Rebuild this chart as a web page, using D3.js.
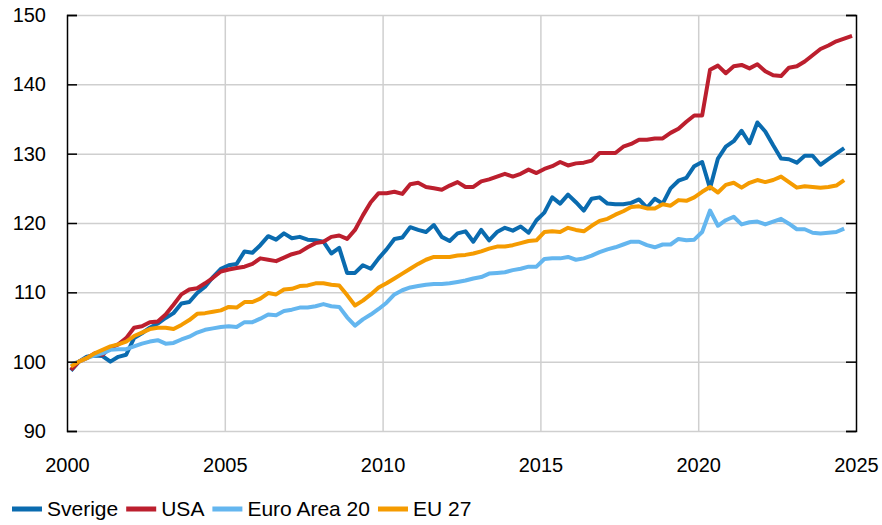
<!DOCTYPE html>
<html>
<head>
<meta charset="utf-8">
<script src="https://d3js.org/d3.v7.min.js"></script>
<style>
  body { margin: 0; background: #fff; }
  svg text { font-family: "Liberation Sans", Arial, sans-serif; fill: #000; }
</style>
</head>
<body>
<script>
//quarterly index, 2000 Q1 onwards
var startYear = 2000;

var sverige = [
  98.7, 100.0, 100.7, 100.9, 100.8, 100.0, 100.7, 101.0, 103.4, 104.1, 104.9, 105.5, 106.3, 107.0, 108.4, 108.6, 109.9, 110.8, 112.2, 113.4,
  113.9, 114.1, 115.9, 115.7, 116.8, 118.1, 117.6, 118.5, 117.8, 118.0, 117.6, 117.5, 117.3, 115.6, 116.4, 112.8, 112.8, 113.9, 113.4, 114.9,
  116.2, 117.7, 117.9, 119.4, 119.0, 118.7, 119.7, 118.0, 117.4, 118.5, 118.8, 117.3, 119.0, 117.5, 118.7, 119.3, 118.9, 119.5, 118.6, 120.4,
  121.5, 123.7, 122.8, 124.1, 123.0, 121.8, 123.5, 123.7, 122.8, 122.7, 122.7, 122.9, 123.4, 122.2, 123.5, 122.8, 125.0, 126.1, 126.5, 128.2,
  128.8, 125.0, 129.3, 131.0, 131.8, 133.3, 131.5, 134.5, 133.2, 131.2, 129.3, 129.2, 128.7, 129.7, 129.7, 128.4, 129.2, 130.0, 130.8
];

var usa = [
  98.8, 100.0, 100.5, 101.2, 101.0, 102.0, 102.5, 103.4, 104.9, 105.1, 105.7, 105.8, 106.8, 108.2, 109.7, 110.4, 110.6, 111.3, 112.1, 113.0,
  113.3, 113.5, 113.7, 114.1, 114.9, 114.7, 114.5, 115.0, 115.5, 115.8, 116.5, 117.1, 117.3, 118.0, 118.2, 117.7, 119.0, 121.1, 123.0, 124.3,
  124.3, 124.5, 124.2, 125.6, 125.8, 125.2, 125.0, 124.8, 125.4, 125.9, 125.2, 125.2, 126.0, 126.3, 126.7, 127.1, 126.7, 127.1, 127.7, 127.2,
  127.8, 128.2, 128.8, 128.3, 128.6, 128.7, 129.0, 130.1, 130.1, 130.1, 131.0, 131.4, 132.0, 132.0, 132.2, 132.2, 133.0, 133.6, 134.6, 135.5,
  135.5, 142.1, 142.7, 141.6, 142.6, 142.8, 142.3, 142.9, 141.9, 141.3, 141.2, 142.4, 142.6, 143.3, 144.2, 145.1, 145.6, 146.2, 146.6, 147.0
];

var euroArea = [
  99.6, 100.0, 100.5, 100.9, 101.2, 101.7, 101.8, 101.8, 102.2, 102.6, 102.9, 103.1, 102.6, 102.7, 103.2, 103.6, 104.2, 104.6, 104.8, 105.0,
  105.1, 105.0, 105.7, 105.7, 106.2, 106.8, 106.7, 107.3, 107.5, 107.8, 107.8, 108.0, 108.3, 108.0, 107.9, 106.4, 105.2, 106.1, 106.8, 107.6,
  108.5, 109.7, 110.3, 110.7, 110.9, 111.1, 111.2, 111.2, 111.3, 111.5, 111.7, 112.0, 112.2, 112.7, 112.8, 112.9, 113.2, 113.4, 113.7, 113.7,
  114.8, 114.9, 114.9, 115.1, 114.7, 114.9, 115.3, 115.8, 116.2, 116.5, 116.9, 117.3, 117.3, 116.8, 116.5, 116.9, 116.9, 117.7, 117.5, 117.6,
  118.7, 121.8, 119.6, 120.4, 120.9, 119.8, 120.1, 120.2, 119.8, 120.2, 120.6, 119.9, 119.1, 119.1, 118.6, 118.5, 118.6, 118.7, 119.2
];

var eu27 = [
  99.3, 100.0, 100.5, 101.2, 101.7, 102.2, 102.5, 102.9, 103.7, 104.2, 104.7, 104.9, 104.9, 104.7, 105.3, 106.0, 106.9, 107.0, 107.2, 107.4,
  107.9, 107.8, 108.6, 108.6, 109.1, 109.9, 109.7, 110.4, 110.5, 110.9, 111.0, 111.3, 111.3, 111.1, 111.0, 109.6, 108.1, 108.8, 109.7, 110.7,
  111.3, 112.0, 112.7, 113.4, 114.1, 114.7, 115.1, 115.1, 115.1, 115.3, 115.4, 115.6, 115.9, 116.3, 116.6, 116.6, 116.8, 117.1, 117.4, 117.5,
  118.7, 118.8, 118.7, 119.3, 119.0, 118.8, 119.6, 120.3, 120.6, 121.2, 121.7, 122.3, 122.4, 122.1, 122.1, 122.7, 122.5, 123.3, 123.2, 123.7,
  124.5, 125.2, 124.4, 125.5, 125.8, 125.1, 125.8, 126.2, 125.9, 126.2, 126.7, 125.9, 125.1, 125.3, 125.2, 125.1, 125.2, 125.4, 126.2
];

var seriesNames = ["Sverige", "USA", "Euro Area 20", "EU 27"];
var seriesColors = ["#0a6baf", "#bc1f2e", "#64b6ef", "#f59b00"];
var yTicks = [90, 100, 110, 120, 130, 140, 150];
var xTicks = [2000, 2005, 2010, 2015, 2020, 2025];

//chart frame
var width = 882,
    height = 525,
    margin = {top: 15, right: 26, bottom: 94, left: 67};

var svg = d3.select("body")
    .append("svg")
    .attr("width", width)
    .attr("height", height);

var x = d3.scaleLinear()
    .domain([2000, 2025])
    .range([margin.left, width - margin.right]);

var y = d3.scaleLinear()
    .domain([90, 150])
    .range([height - margin.bottom, margin.top]);

//horizontal grid
svg.append("g")
    .attr("transform", "translate(" + margin.left + ",0)")
    .call(d3.axisLeft(y).tickValues(yTicks).tickSize(-(x.range()[1] - x.range()[0])).tickFormat(""))
    .call(function(g){
        g.select(".domain").remove();
        g.selectAll("line").attr("stroke", "#cfcfcf").attr("stroke-width", 1.5);
    });

//vertical grid
svg.append("g")
    .attr("transform", "translate(0," + y(90) + ")")
    .call(d3.axisBottom(x).tickValues(xTicks.slice(1, -1)).tickSize(-(y(90) - y(150))).tickFormat(""))
    .call(function(g){
        g.select(".domain").remove();
        g.selectAll("line").attr("stroke", "#cfcfcf").attr("stroke-width", 1.5);
    });

//lines
var line = d3.line()
    .x(function(d, i){ return x(startYear + (i + 0.5) / 4); })
    .y(function(d){ return y(d); });

[sverige, usa, euroArea, eu27].forEach(function(vals, k){
    svg.append("path")
        .datum(vals)
        .attr("fill", "none")
        .attr("stroke", seriesColors[k])
        .attr("stroke-width", 4)
        .attr("stroke-linejoin", "round")
        .attr("d", line);
});

//left axis
svg.append("g")
    .attr("transform", "translate(" + margin.left + ",0)")
    .call(d3.axisLeft(y).tickValues(yTicks).tickSize(-10).tickPadding(21))
    .call(function(g){
        g.select(".domain").attr("stroke", "#000").attr("stroke-width", 1.5);
        g.selectAll("line").attr("stroke", "#000").attr("stroke-width", 1.5);
        g.selectAll("text").attr("font-size", "20px").attr("font-family", "Liberation Sans, Arial, sans-serif");
    });

//right axis
svg.append("g")
    .attr("transform", "translate(" + (width - margin.right) + ",0)")
    .call(d3.axisRight(y).tickValues(yTicks).tickSize(-10).tickFormat(""))
    .call(function(g){
        g.select(".domain").attr("stroke", "#000").attr("stroke-width", 1.5);
        g.selectAll("line").attr("stroke", "#000").attr("stroke-width", 1.5);
    });

//x labels
svg.append("g")
    .attr("transform", "translate(0," + y(90) + ")")
    .call(d3.axisBottom(x).tickValues(xTicks).tickSize(0).tickPadding(27).tickFormat(d3.format("d")))
    .call(function(g){
        g.select(".domain").remove();
        g.selectAll("text").attr("font-size", "20px").attr("font-family", "Liberation Sans, Arial, sans-serif");
    });

//legend
var legend = svg.append("g").attr("transform", "translate(12,509)");
var lx = 0;
seriesNames.forEach(function(name, k){
    legend.append("rect")
        .attr("x", lx).attr("y", -2.5)
        .attr("width", 30).attr("height", 5)
        .attr("fill", seriesColors[k]);
    var t = legend.append("text")
        .attr("x", lx + 35).attr("y", 0)
        .attr("dy", "0.35em")
        .attr("font-size", "21px")
        .text(name);
    lx += 35 + t.node().getComputedTextLength() + 8;
});
</script>
</body>
</html>
